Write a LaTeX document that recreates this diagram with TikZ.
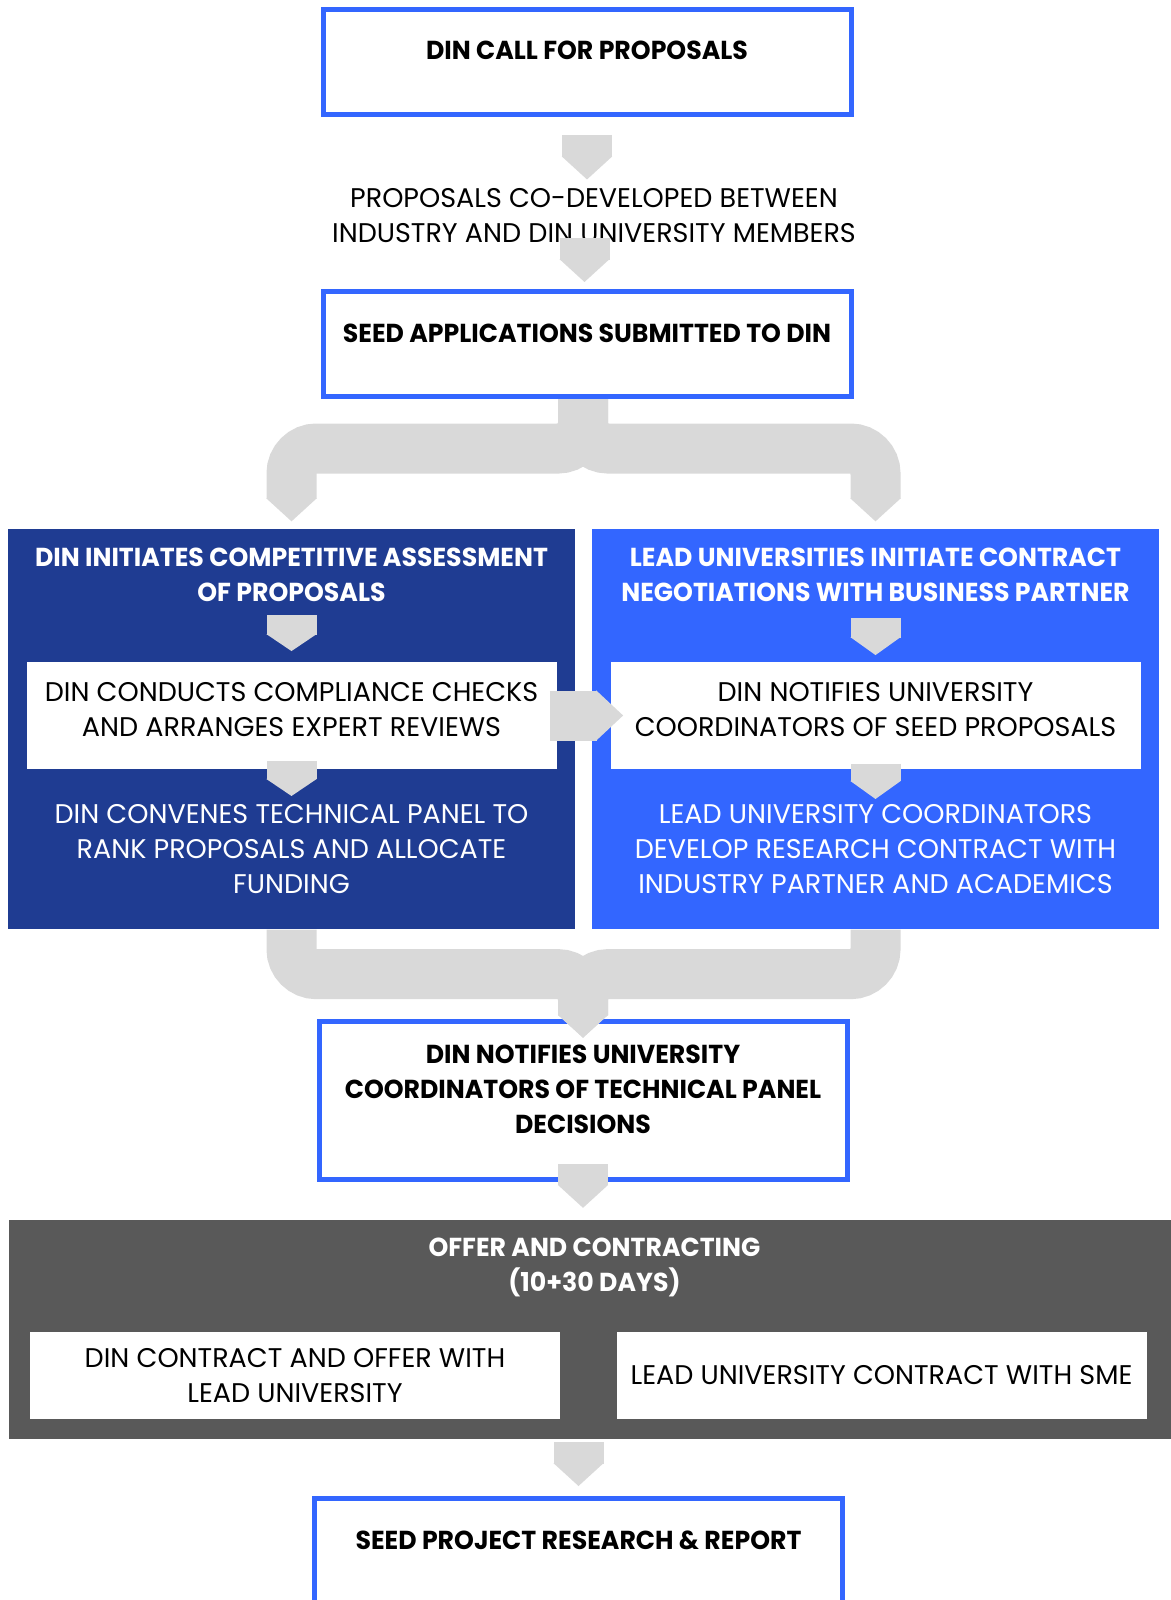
\documentclass[tikz,border=0pt]{standalone}
\usepackage{fontspec}
\setmainfont{Poppins}[BoldFeatures={FakeStretch=0.97}]
\usetikzlibrary{arrows.meta,calc}
\definecolor{dinblue}{HTML}{3366FF}
\definecolor{dindark}{HTML}{1F3C92}
\definecolor{flowgray}{HTML}{D9D9D9}
\definecolor{offergray}{HTML}{595959}
\begin{document}
\begin{tikzpicture}[x=1pt, y=1pt,
    every node/.style={font=\fontsize{13.5}{17.5}\selectfont, align=center},
    stepbox/.style={draw=dinblue, line width=2.5pt, minimum width=264pt,
      font=\fontsize{13}{17.5}\selectfont\bfseries},
    headbox/.style={stepbox, inner ysep=16.25pt, text height=9pt, text depth=11pt},
    panel/.style={minimum width=283.5pt, minimum height=200pt, text=white,
      font=\fontsize{13}{17.5}\selectfont\bfseries\addfontfeature{FakeStretch=0.95},
      inner ysep=9.5pt, text depth=154.5pt},
    whitebox/.style={fill=white, minimum width=265pt, minimum height=52.5pt,
      inner ysep=10pt, text depth=6pt},
    slotbox/.style={fill=white, minimum width=265pt, minimum height=43.5pt},
    plain/.style={inner sep=0pt},
    flow/.style={draw=flowgray, line width=25pt, rounded corners=12.5pt,
      -{Triangle[length=#1, width=25pt, line width=1pt]}},
    flow/.default=11.5pt]
        \useasboundingbox (0,0) rectangle (585.5,-800);
        \clip (0,0) rectangle (585.5,-800);
        \node [headbox] (call) at (293.5,-31) {DIN CALL FOR PROPOSALS};
        \node [plain, node distance=77pt, below of=call, xshift=3.5pt] (codev)
          {PROPOSALS CO-DEVELOPED BETWEEN\\INDUSTRY AND DIN UNIVERSITY MEMBERS};
        \node [headbox, node distance=141pt, below of=call] (seed) {SEED APPLICATIONS SUBMITTED TO DIN};
        \node [panel, fill=dindark, node distance=192.5pt, below of=seed, xshift=-147.75pt] (assess)
          {DIN INITIATES COMPETITIVE ASSESSMENT\\OF PROPOSALS};
        \node [panel, fill=dinblue, node distance=292pt, right of=assess] (negot)
          {LEAD UNIVERSITIES INITIATE CONTRACT\\NEGOTIATIONS WITH BUSINESS PARTNER};
        \node [whitebox, node distance=6.75pt, above of=assess] (checks)
          {DIN CONDUCTS COMPLIANCE CHECKS\\AND ARRANGES EXPERT REVIEWS};
        \node [whitebox, node distance=6.75pt, above of=negot] (notify)
          {DIN NOTIFIES UNIVERSITY\\COORDINATORS OF SEED PROPOSALS};
        \node [plain, text=white, node distance=66.75pt, below of=checks] (convene)
          {DIN CONVENES TECHNICAL PANEL TO\\RANK PROPOSALS AND ALLOCATE\\FUNDING};
        \node [plain, text=white, node distance=66.75pt, below of=notify] (develop)
          {LEAD UNIVERSITY COORDINATORS\\DEVELOP RESEARCH CONTRACT WITH\\INDUSTRY PARTNER AND ACADEMICS};
        \node [stepbox, inner ysep=11.75pt, text depth=11.5pt, node distance=378.25pt, below of=seed, xshift=-2pt] (decide)
          {DIN NOTIFIES UNIVERSITY\\COORDINATORS OF TECHNICAL PANEL\\DECISIONS};
        \node [fill=offergray, text=white, minimum width=585.5pt, font=\fontsize{13}{17.5}\selectfont\bfseries,
          inner ysep=9pt, text depth=64.5pt, node distance=114.5pt, below of=decide, xshift=5.75pt] (offer)
          {OFFER AND CONTRACTING\\(10+30 DAYS)};
        \node [slotbox, node distance=23pt, below of=offer, xshift=-149.75pt] (dincontract)
          {DIN CONTRACT AND OFFER WITH\\LEAD UNIVERSITY};
        \node [slotbox, node distance=293.25pt, right of=dincontract] (unicontract)
          {LEAD UNIVERSITY CONTRACT WITH SME};
        \node [headbox, node distance=225.25pt, below of=decide, xshift=-2.25pt] (report) {SEED PROJECT RESEARCH \& REPORT};
        % connectors
        \draw[flow] ([yshift=-9pt]call.south) -- ($(codev.north -| call.south)+(0,4.5)$);
        \draw[flow] ($(codev.south -| seed.north)+(-1.25,3)$) -- ([xshift=-1.25pt, yshift=3.5pt]seed.north);
        \draw[flow] ([xshift=-2pt]seed.south) -- ++(0,-24.75) -| ([yshift=3.5pt]assess.north);
        \draw[flow] ([xshift=-2pt]seed.south) -- ++(0,-24.75) -| ([yshift=3.5pt]negot.north);
        \draw[flow=8.5pt] ([yshift=-43.5pt]assess.north) -- ([yshift=5.5pt]checks.north);
        \draw[flow=8.5pt] ([yshift=4pt]checks.south) -- ([yshift=4pt]convene.north);
        \draw[flow=9pt] ([yshift=-45pt]negot.north) -- ([yshift=3.5pt]notify.north);
        \draw[flow=9pt] ([yshift=2.5pt]notify.south) -- ([yshift=2.5pt]develop.north);
        \draw[flow=13.5pt] ([xshift=-3.5pt]checks.east) -- ([xshift=6.5pt]notify.west);
        \draw[flow] (assess.south) -- ++(0,-22.25) -| ([yshift=-9.5pt]decide.north);
        \draw[flow] (negot.south) -- ++(0,-22.25) -| ([yshift=-9.5pt]decide.north);
        \draw[flow] ([yshift=9pt]decide.south) -- ($(offer.north -| decide.south)+(0,6)$);
        \draw[flow] ($(offer.south -| report.north)+(0,-1.5)$) -- ([yshift=5pt]report.north);
      \end{tikzpicture}
\end{document}
